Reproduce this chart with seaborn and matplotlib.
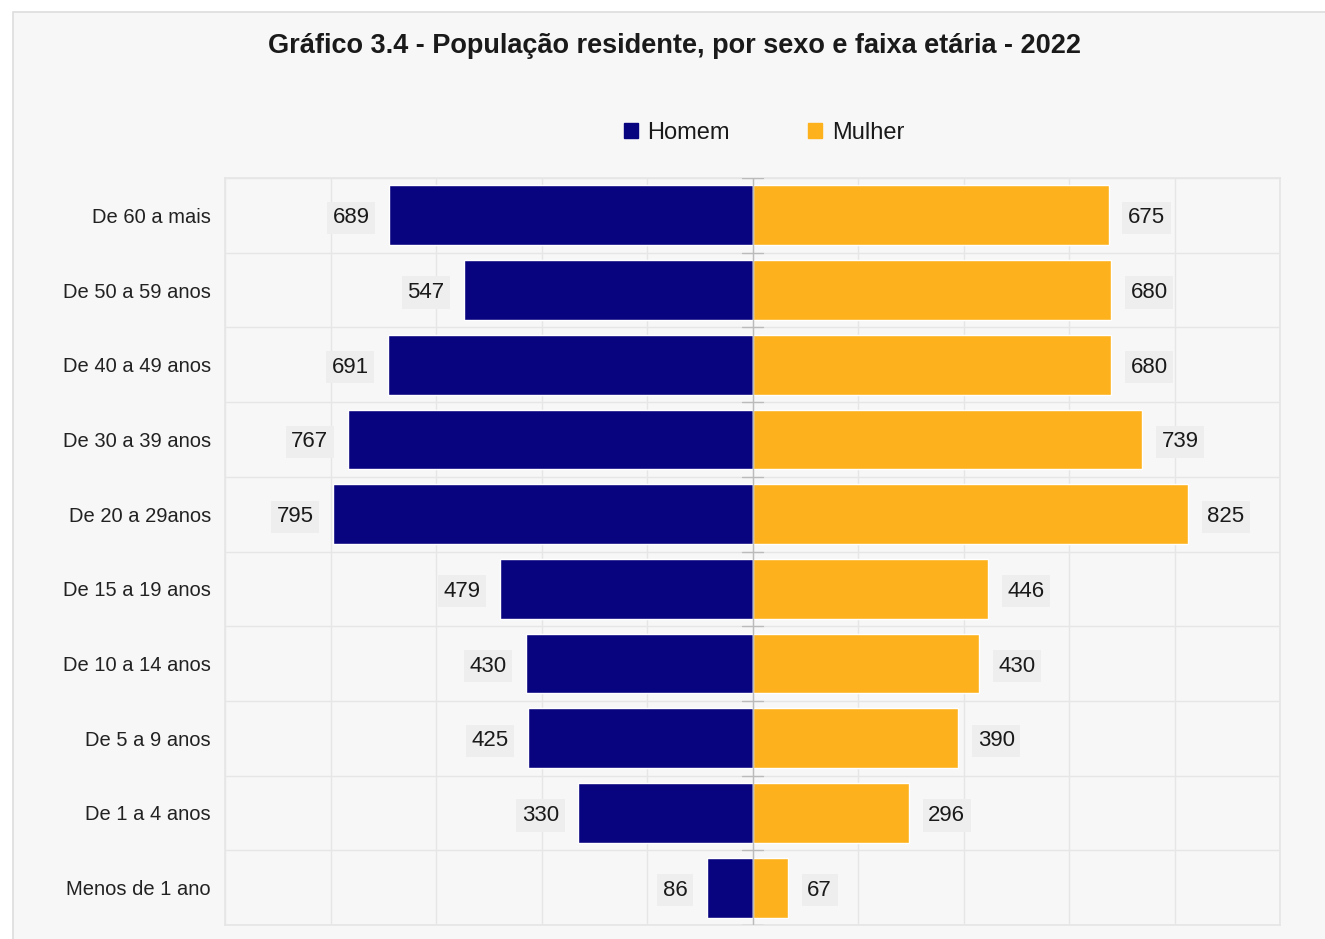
import matplotlib
matplotlib.use("Agg")
import matplotlib.pyplot as plt
import seaborn as sns
import pandas as pd
from matplotlib.patches import Rectangle

categories = ["De 60 a mais", "De 50 a 59 anos", "De 40 a 49 anos", "De 30 a 39 anos",
              "De 20 a 29anos", "De 15 a 19 anos", "De 10 a 14 anos", "De 5 a 9 anos",
              "De 1 a 4 anos", "Menos de 1 ano"]
homem = [689, 547, 691, 767, 795, 479, 430, 425, 330, 86]
mulher = [675, 680, 680, 739, 825, 446, 430, 390, 296, 67]
series = ["Homem", "Mulher"]
title = "Gráfico 3.4 - População residente, por sexo e faixa etária - 2022"

colors = {"Homem": "#08037f", "Mulher": "#fdb11c"}
bg = "#f7f7f7"

df = pd.DataFrame({
    "faixa": categories * 2,
    "sexo": ["Homem"] * len(categories) + ["Mulher"] * len(categories),
    "valor": [-v for v in homem] + list(mulher),
})

sns.set_theme(style="white")
plt.rcParams["font.family"] = ["Liberation Sans", "DejaVu Sans"]

W, H = 1325, 939
fig = plt.figure(figsize=(W / 100, H / 100), dpi=100, facecolor="white")
fig.patches.append(Rectangle((13 / W, -0.01), 1.0, 1.01 - 12 / H, transform=fig.transFigure,
                             facecolor=bg, edgecolor="#dddddd", linewidth=1.2, zorder=-10))

ax = fig.add_axes([225 / W, 1 - 925 / H, (1280 - 225) / W, (925 - 178) / H])
ax.set_facecolor(bg)

sns.barplot(data=df, x="valor", y="faixa", hue="sexo", order=categories, hue_order=series,
            palette=colors, dodge=False, orient="h", width=0.8, ax=ax, legend=False,
            saturation=1, zorder=3)

ax.set_xlim(-1000, 1000)
ax.set_ylim(len(categories) - 0.5, -0.5)
ax.set_xticks(range(-1000, 1001, 200))
ax.set_xticklabels([])
ax.tick_params(axis="x", length=0)
ax.set_xlabel("")
ax.set_ylabel("")
ax.tick_params(axis="y", length=0, labelsize=14.5, pad=10, labelcolor="#222222")

# grid
for x in range(-1000, 1001, 200):
    ax.axvline(x, color="#e6e6e6", lw=1, zorder=0)
for i in range(len(categories) + 1):
    ax.axhline(i - 0.5, color="#e6e6e6", lw=1, zorder=0)
    ax.plot([-20, 20], [i - 0.5, i - 0.5], color="#bbbbbb", lw=1, zorder=4)
ax.axvline(0, color="#bbbbbb", lw=1, zorder=4)
for s in ax.spines.values():
    s.set_color("#e6e6e6")

# data labels
for i, (h, m) in enumerate(zip(homem, mulher)):
    ax.annotate(f"{h}", (-h, i), xytext=(-14, 0), textcoords="offset points",
                ha="right", va="center_baseline", fontsize=16, color="#1a1a1a", zorder=5,
                bbox=dict(boxstyle="square,pad=0.25", fc="#eeeeee", ec="none"))
    ax.annotate(f"{m}", (m, i), xytext=(14, 0), textcoords="offset points",
                ha="left", va="center_baseline", fontsize=16, color="#1a1a1a", zorder=5,
                bbox=dict(boxstyle="square,pad=0.25", fc="#eeeeee", ec="none"))

fig.text(0.5 * (265 + 1083) / W, 1 - 46 / H, title, ha="center", va="center",
         fontsize=19.5, fontweight="bold", color="#1a1a1a")

handles = [Rectangle((0, 0), 1, 1, color=colors[s]) for s in series]
fig.legend(handles, series, loc="center", bbox_to_anchor=(764 / W, 1 - 133 / H), ncol=2,
           frameon=False, fontsize=17, handlelength=0.6, handleheight=0.6,
           columnspacing=3.3, handletextpad=0.4, labelcolor="#1a1a1a")

fig.savefig("out.png", dpi=100, facecolor=fig.get_facecolor())
